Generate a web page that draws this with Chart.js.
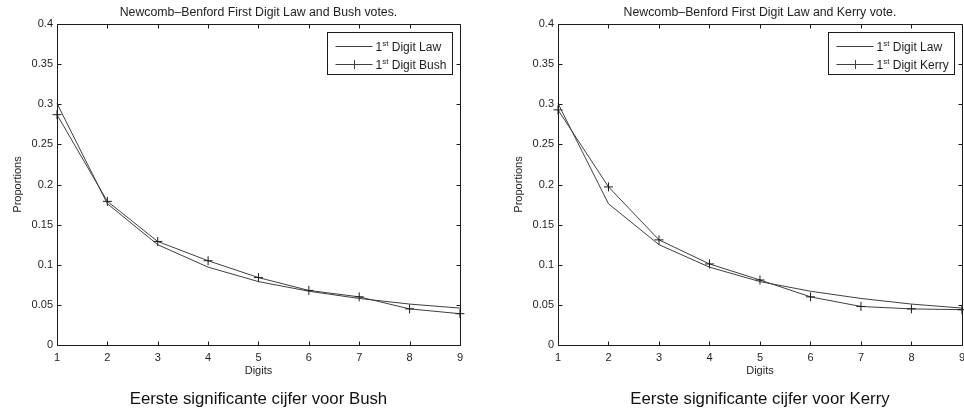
<!DOCTYPE html>
<html>
<head>
<meta charset="utf-8">
<title>Newcomb–Benford First Digit Law</title>
<script src="https://cdn.jsdelivr.net/npm/chart.js@4.4.1/dist/chart.umd.min.js"></script>
<style>
  html, body { margin: 0; padding: 0; background: #ffffff; }
  #wrap { position: relative; width: 964px; height: 413px; overflow: hidden; }
  canvas { position: absolute; top: 0; }
  #bushChart { left: 0; }
  #kerryChart { left: 501px; }
</style>
</head>
<body>
<div id="wrap">
  <canvas id="bushChart" width="469" height="413"></canvas>
  <canvas id="kerryChart" width="470" height="413"></canvas>
</div>
<script>
// First significant digit
const digits = [1, 2, 3, 4, 5, 6, 7, 8, 9];

// Expected proportions under the Newcomb–Benford law
const benfordLaw = [0.301, 0.176, 0.125, 0.097, 0.079, 0.067, 0.058, 0.051, 0.046];

// Observed first-digit proportions in the vote counts
const bushFirstDigit  = [0.287, 0.179, 0.129, 0.105, 0.084, 0.068, 0.060, 0.045, 0.039];
const kerryFirstDigit = [0.293, 0.197, 0.131, 0.101, 0.081, 0.060, 0.048, 0.045, 0.044];

// Axis ticks
const digitTicks = [1, 2, 3, 4, 5, 6, 7, 8, 9];
const proportionTicks = [0, 0.05, 0.1, 0.15, 0.2, 0.25, 0.3, 0.35, 0.4];

const FONT = '"Liberation Sans", Arial, Helvetica, sans-serif';
const TEXT = '#1e1e1e';
const LINE = '#3f3f3f';

// Boxed axes with inward tick marks on all four sides
const frameTicks = {
  id: 'frameTicks',
  afterDatasetsDraw(chart) {
    const { ctx, chartArea, scales: { x, y } } = chart;
    const L = Math.round(chartArea.left) + 0.5;
    const R = Math.round(chartArea.right) + 0.5;
    const T = Math.round(chartArea.top) + 0.5;
    const B = Math.round(chartArea.bottom) + 0.5;
    const len = 4;
    ctx.save();
    ctx.strokeStyle = '#1a1a1a';
    ctx.lineWidth = 1;
    ctx.beginPath();
    ctx.rect(L, T, R - L, B - T);
    x.ticks.forEach(t => {
      const px = Math.round(x.getPixelForValue(t.value)) + 0.5;
      ctx.moveTo(px, B); ctx.lineTo(px, B - len);
      ctx.moveTo(px, T); ctx.lineTo(px, T + len);
    });
    y.ticks.forEach(t => {
      const py = Math.round(y.getPixelForValue(t.value)) + 0.5;
      ctx.moveTo(L, py); ctx.lineTo(L + len, py);
      ctx.moveTo(R, py); ctx.lineTo(R - len, py);
    });
    ctx.stroke();
    ctx.restore();
  }
};

// Legend box in the upper-right corner, with superscript ordinals
const ordinalLegend = {
  id: 'ordinalLegend',
  afterDraw(chart) {
    const { ctx, chartArea } = chart;
    const sets = chart.data.datasets;
    const mainFont = '12px ' + FONT;
    const supFont = '8px ' + FONT;
    const parts = sets.map(ds => {
      const m = /^(\d+)(st|nd|rd|th)(.*)$/.exec(ds.label);
      return m ? [m[1], m[2], m[3]] : [ds.label, '', ''];
    });
    ctx.save();
    const widths = parts.map(p => {
      ctx.font = mainFont;
      let w = ctx.measureText(p[0]).width + ctx.measureText(p[2]).width;
      ctx.font = supFont;
      w += ctx.measureText(p[1]).width;
      return w;
    });
    const textW = Math.max(...widths);
    const sampleX0 = 8, sampleLen = 37, gap = 3;
    const boxW = Math.round(sampleX0 + sampleLen + gap + textW + 6);
    const boxH = 42;
    const bx = Math.round(chartArea.right - 8 - boxW) + 0.5;
    const by = Math.round(chartArea.top + 8) + 0.5;
    ctx.fillStyle = '#ffffff';
    ctx.fillRect(bx, by, boxW, boxH);
    ctx.strokeStyle = '#1a1a1a';
    ctx.lineWidth = 1;
    ctx.strokeRect(bx, by, boxW, boxH);

    sets.forEach((ds, i) => {
      const ry = Math.round(by + 13 + i * 18) + 0.5;
      const x0 = bx + sampleX0, x1 = x0 + sampleLen;
      ctx.strokeStyle = ds.borderColor;
      ctx.lineWidth = ds.borderWidth;
      ctx.beginPath();
      ctx.moveTo(x0, ry); ctx.lineTo(x1, ry);
      if (ds.pointStyle === 'cross' && ds.pointRadius > 0) {
        const cx = Math.round((x0 + x1) / 2) + 0.5, r = ds.pointRadius;
        ctx.moveTo(cx, ry - r); ctx.lineTo(cx, ry + r);
        ctx.moveTo(cx - r, ry); ctx.lineTo(cx + r, ry);
      }
      ctx.stroke();

      let tx = x1 + gap;
      const p = parts[i];
      ctx.fillStyle = TEXT;
      ctx.textBaseline = 'alphabetic';
      const base = ry + 4.5;
      ctx.font = mainFont;
      ctx.fillText(p[0], tx, base);
      tx += ctx.measureText(p[0]).width;
      ctx.font = supFont;
      ctx.fillText(p[1], tx, base - 5);
      tx += ctx.measureText(p[1]).width;
      ctx.font = mainFont;
      ctx.fillText(p[2], tx, base);
    });
    ctx.restore();
  }
};

function toPoints(values) {
  return digits.map((d, i) => ({ x: d, y: values[i] }));
}

function buildChart(canvasId, titleText, captionText, observed, observedLabel) {
  const tickFont = { family: FONT, size: 11 };
  return new Chart(document.getElementById(canvasId), {
    type: 'line',
    data: {
      datasets: [
        {
          label: '1st Digit Law',
          data: toPoints(benfordLaw),
          borderColor: LINE,
          borderWidth: 1,
          pointRadius: 0,
          tension: 0,
          clip: false
        },
        {
          label: observedLabel,
          data: toPoints(observed),
          borderColor: LINE,
          borderWidth: 1,
          pointStyle: 'cross',
          pointRadius: 4.5,
          pointBorderColor: '#1a1a1a',
          pointBorderWidth: 1,
          tension: 0,
          clip: false
        }
      ]
    },
    options: {
      responsive: false,
      animation: false,
      devicePixelRatio: 1,
      events: [],
      layout: { padding: { left: 0, right: 4, top: 0, bottom: 0 } },
      plugins: {
        legend: { display: false },
        tooltip: { enabled: false },
        title: {
          display: true,
          text: titleText,
          fullSize: false,
          color: TEXT,
          font: { family: FONT, size: 12.3, weight: 'normal', lineHeight: 1.2 },
          padding: { top: 5.5, bottom: 3.74 }
        },
        subtitle: {
          display: true,
          text: captionText,
          position: 'bottom',
          fullSize: false,
          color: '#111111',
          font: { family: FONT, size: 16.8, weight: 'normal', lineHeight: 1.2 },
          padding: { top: 0, bottom: 3.84 }
        }
      },
      scales: {
        x: {
          type: 'linear',
          min: 1,
          max: 9,
          afterBuildTicks: s => { s.ticks = digitTicks.map(v => ({ value: v })); },
          afterFit: s => { s.height = 44; },
          grid: { display: false, drawTicks: false },
          border: { display: false },
          ticks: {
            padding: 6,
            color: TEXT,
            font: tickFont,
            autoSkip: false,
            maxRotation: 0,
            callback: v => String(v)
          },
          title: {
            display: true,
            text: 'Digits',
            color: TEXT,
            font: tickFont,
            padding: { top: 0, bottom: 11 }
          }
        },
        y: {
          type: 'linear',
          min: 0,
          max: 0.4,
          afterBuildTicks: s => { s.ticks = proportionTicks.map(v => ({ value: v })); },
          afterFit: s => { s.width = 57; },
          grid: { display: false, drawTicks: false },
          border: { display: false },
          ticks: {
            padding: 4,
            color: TEXT,
            font: tickFont,
            autoSkip: false,
            callback: v => String(+v.toFixed(2))
          },
          title: {
            display: true,
            text: 'Proportions',
            color: TEXT,
            font: tickFont,
            padding: { top: 11, bottom: 0 }
          }
        }
      }
    },
    plugins: [frameTicks, ordinalLegend]
  });
}

buildChart('bushChart',
  'Newcomb\u2013Benford First Digit Law and Bush votes.',
  'Eerste significante cijfer voor Bush',
  bushFirstDigit, '1st Digit Bush');

buildChart('kerryChart',
  'Newcomb\u2013Benford First Digit Law and Kerry vote.',
  'Eerste significante cijfer voor Kerry',
  kerryFirstDigit, '1st Digit Kerry');
</script>
</body>
</html>
